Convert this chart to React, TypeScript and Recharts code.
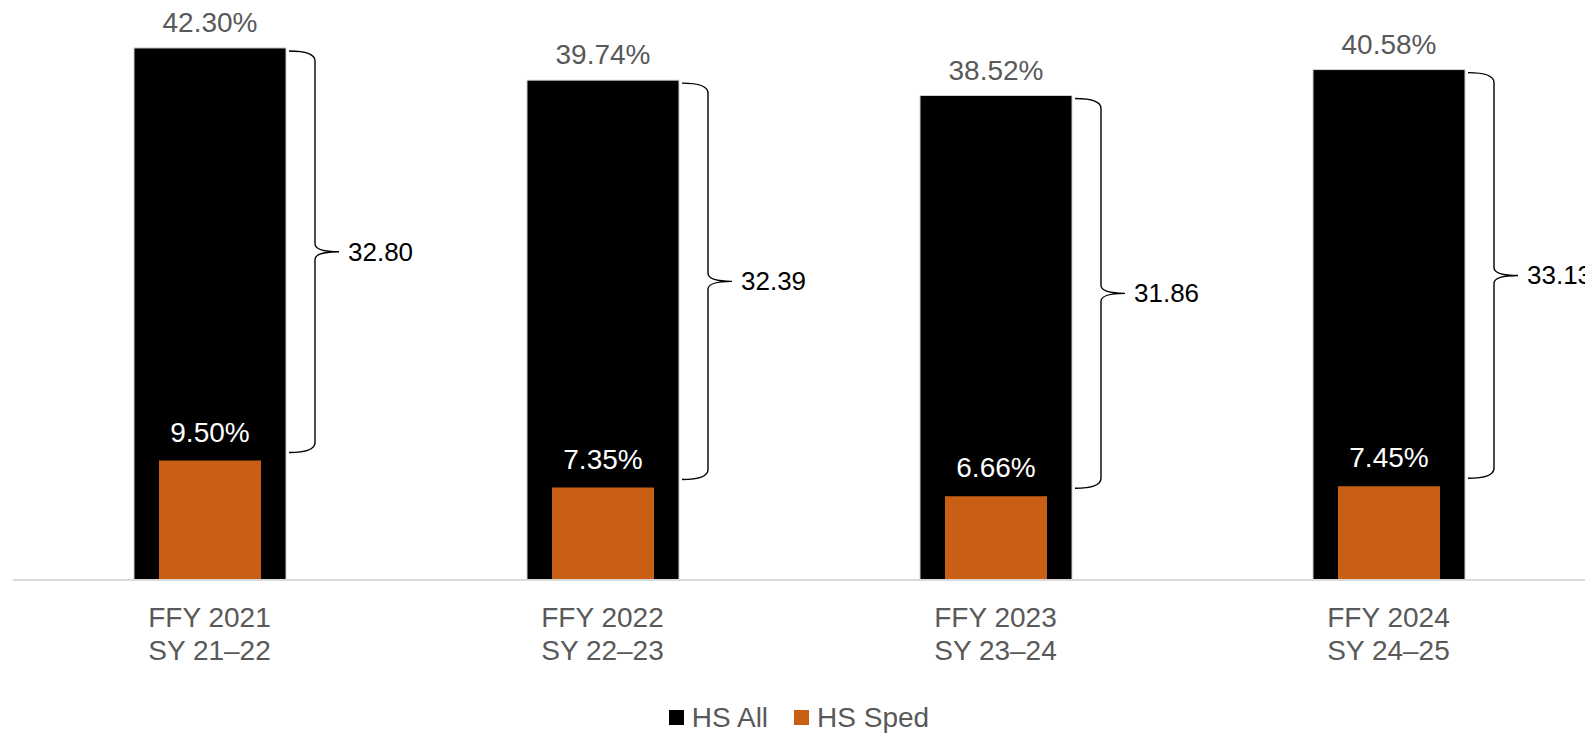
import React from "react";
import { BarChart, Bar, XAxis, YAxis, LabelList, Legend } from "recharts";

const ffyLabels = ["FFY 2021", "FFY 2022", "FFY 2023", "FFY 2024"];
const syLabels = ["SY 21–22", "SY 22–23", "SY 23–24", "SY 24–25"];
const hsAll = [42.3, 39.74, 38.52, 40.58];
const hsSped = [9.5, 7.35, 6.66, 7.45];

const GREY = "#595959";
const ORANGE = "#C95E15";
const FONT = "'Liberation Sans', Arial, sans-serif";

const data = ffyLabels.map((ffy, i) => ({
  ffy,
  sy: syLabels[i],
  all: hsAll[i],
  sped: hsSped[i],
}));

const pct = (v: number) => `${Number(v).toFixed(2)}%`;

// black bar plus the curly brace showing the gap to the sped bar
const AllBarShape = (props: any) => {
  const { x, y, width, height, payload } = props;
  const k = height / payload.all;
  const yTop = y + 3;
  const yBot = y + height - payload.sped * k - 8;
  const yMid = (yTop + yBot) / 2;
  const x0 = x + width + 3;
  const xv = x + width + 29;
  const xt = xv + 24;
  const d = [
    `M ${x0} ${yTop}`,
    `Q ${xv} ${yTop} ${xv} ${yTop + 10}`,
    `L ${xv} ${yMid - 8}`,
    `Q ${xv} ${yMid} ${xt} ${yMid}`,
    `Q ${xv} ${yMid} ${xv} ${yMid + 8}`,
    `L ${xv} ${yBot - 10}`,
    `Q ${xv} ${yBot} ${x0} ${yBot}`,
  ].join(" ");
  return (
    <g>
      <rect x={x} y={y} width={width} height={height} fill="#000" stroke="#d0d0d0" strokeWidth={1} />
      <path d={d} fill="none" stroke="#000" strokeWidth={1.4} />
      <text x={xt + 9} y={yMid + 9} fontSize={26} fill="#000" fontFamily={FONT}>
        {(payload.all - payload.sped).toFixed(2)}
      </text>
    </g>
  );
};

const TwoLineTick = (props: any) => {
  const { x, y, payload } = props;
  const i = payload.index;
  return (
    <text x={x} y={y} textAnchor="middle" fontSize={28} fill={GREY} fontFamily={FONT}>
      <tspan x={x} dy={39}>{ffyLabels[i]}</tspan>
      <tspan x={x} dy={33}>{syLabels[i]}</tspan>
    </text>
  );
};

const LegendBox = () => (
  <div
    style={{
      height: 73,
      paddingTop: 42,
      boxSizing: "border-box",
      display: "flex",
      justifyContent: "center",
      alignItems: "center",
      fontFamily: FONT,
      fontSize: 28,
      lineHeight: "32px",
      color: GREY,
    }}
  >
    <span style={{ width: 15, height: 15, background: "#000", marginRight: 8 }} />
    <span style={{ marginRight: 26 }}>HS All</span>
    <span style={{ width: 15, height: 15, background: ORANGE, marginRight: 8 }} />
    <span>HS Sped</span>
  </div>
);

export default function App() {
  return (
    <div style={{ position: "absolute", left: 0, top: 0, width: 1585, height: 733, background: "#fff" }}>
      <BarChart
        width={1585}
        height={733}
        data={data}
        margin={{ top: 14, right: 0, bottom: 0, left: 13 }}
      >
        <XAxis
          xAxisId="all"
          dataKey="ffy"
          height={80}
          axisLine={{ stroke: "#d9d9d9", strokeWidth: 2 }}
          tickLine={false}
          tick={<TwoLineTick />}
          interval={0}
        />
        <XAxis xAxisId="sped" dataKey="ffy" hide />
        <YAxis hide domain={[0, 45]} />
        <Legend verticalAlign="bottom" content={<LegendBox />} />
        <Bar
          xAxisId="all"
          dataKey="all"
          name="HS All"
          fill="#000"
          barSize={152}
          shape={<AllBarShape />}
          isAnimationActive={false}
        >
          <LabelList
            dataKey="all"
            position="top"
            offset={16}
            formatter={pct}
            fill={GREY}
            fontSize={28}
            fontFamily={FONT}
          />
        </Bar>
        <Bar
          xAxisId="sped"
          dataKey="sped"
          name="HS Sped"
          fill={ORANGE}
          barSize={102}
          isAnimationActive={false}
        >
          <LabelList
            dataKey="sped"
            position="top"
            offset={19}
            formatter={pct}
            fill="#fff"
            fontSize={28}
            fontFamily={FONT}
          />
        </Bar>
      </BarChart>
    </div>
  );
}
